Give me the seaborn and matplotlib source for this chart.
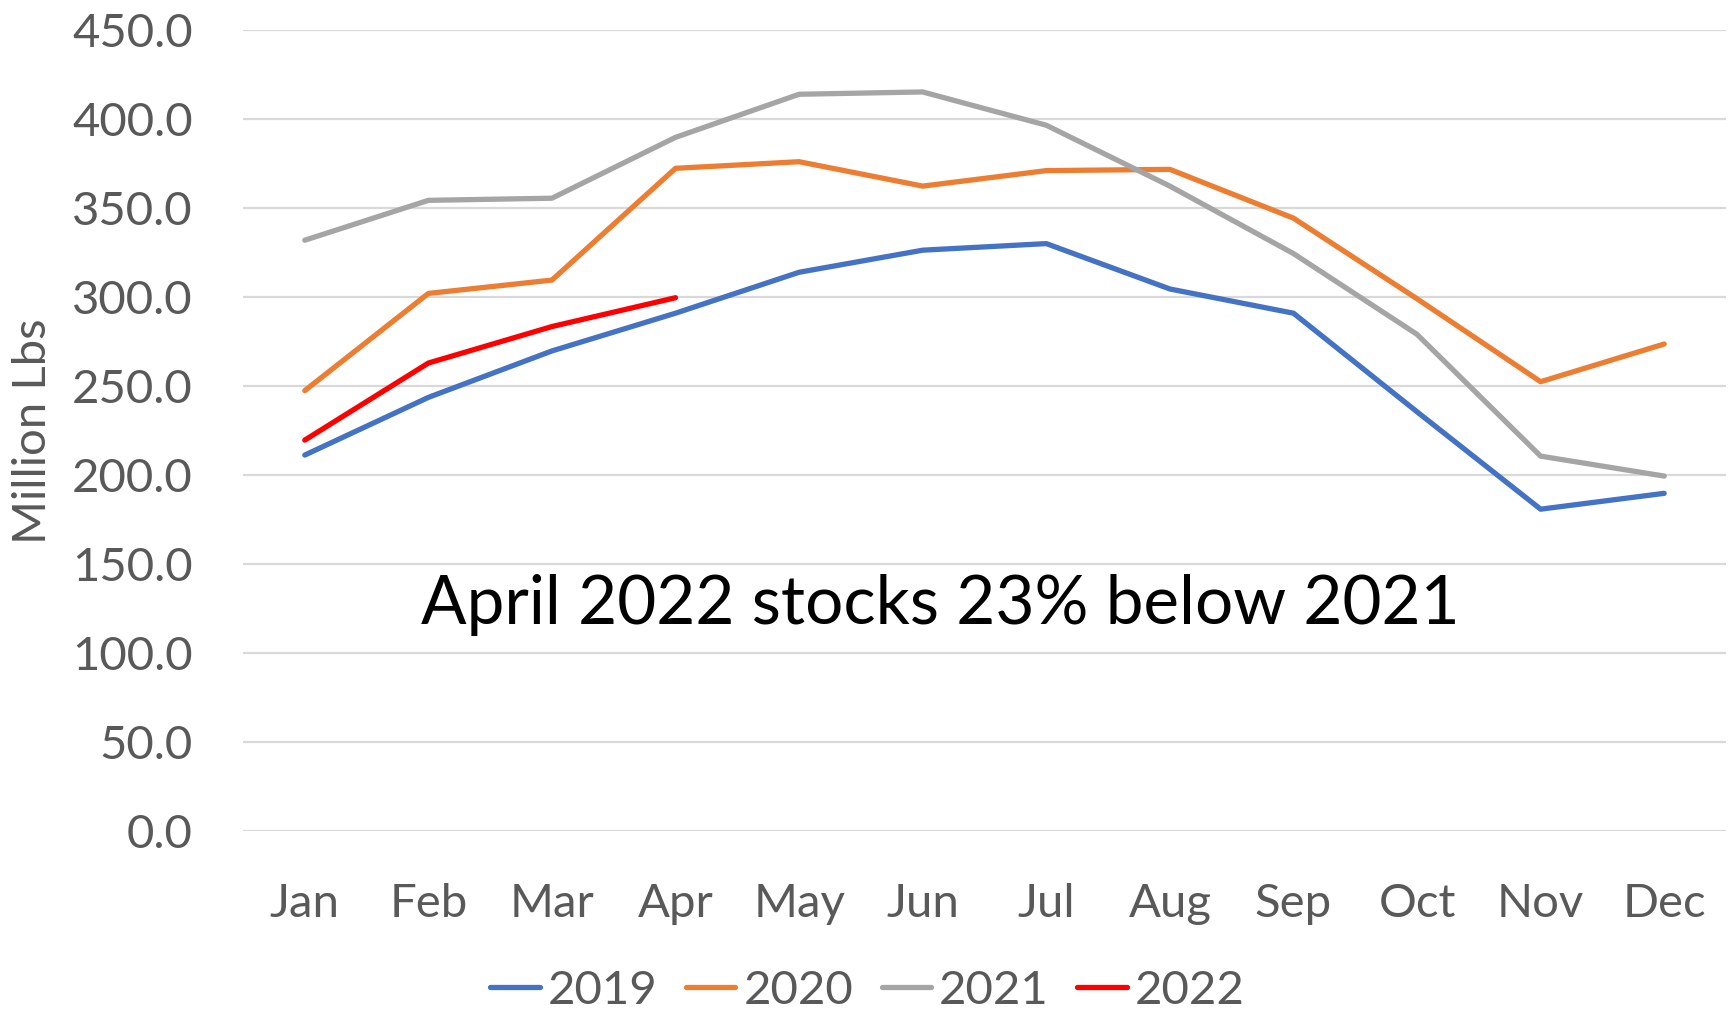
import matplotlib
matplotlib.use("Agg")
import matplotlib.pyplot as plt
import seaborn as sns
import pandas as pd
from matplotlib.lines import Line2D

months = ["Jan", "Feb", "Mar", "Apr", "May", "Jun", "Jul", "Aug", "Sep", "Oct", "Nov", "Dec"]
v2019 = [211.2, 243.6, 269.7, 290.9, 313.9, 326.3, 330.0, 304.5, 290.9, 235.5, 180.8, 189.7]
v2020 = [247.4, 302.0, 309.5, 372.3, 376.0, 362.3, 371.0, 371.7, 344.3, 299.0, 252.4, 273.6]
v2021 = [331.9, 354.3, 355.5, 389.7, 413.9, 415.2, 396.5, 362.3, 324.4, 279.0, 210.6, 199.4]
v2022 = [219.6, 262.9, 283.4, 299.6]
years = ["2019", "2020", "2021", "2022"]
colors = ["#4472C4", "#ED7D31", "#A5A5A5", "#FF0000"]
yticks = [0, 50, 100, 150, 200, 250, 300, 350, 400, 450]
annotation = "April 2022 stocks 23% below 2021"
ylabel = "Million Lbs"

rows = []
for yr, vals in zip(years, [v2019, v2020, v2021, v2022]):
    for m, v in zip(months, vals):
        rows.append({"Month": m, "Value": v, "Year": yr})
df = pd.DataFrame(rows)

sns.set_theme(style="white")
plt.rcParams['font.family'] = ['Lato', 'DejaVu Sans']
grey = "#595959"

fig = plt.figure(figsize=(17.35, 10.09), dpi=100)
ax = fig.add_axes([243/1735, 1-831/1009, (1726-243)/1735, (831-30)/1009])

sns.lineplot(data=df, x="Month", y="Value", hue="Year", palette=dict(zip(years, colors)),
             linewidth=3.8, ax=ax, legend=False, sort=False,
             solid_capstyle="round", solid_joinstyle="round")

ax.set_xlim(-0.5, 11.5)
ax.set_ylim(0, 450)
ax.set_yticks(yticks)
ax.set_yticklabels([f"{t:.1f}" for t in yticks])
ax.grid(axis="y", color="#D9D9D9", linewidth=1.6)
ax.grid(axis="x", visible=False)
ax.set_axisbelow(True)
for s in ax.spines.values():
    s.set_visible(False)
ax.tick_params(axis="y", length=0, pad=36, labelsize=34, labelcolor=grey)
ax.tick_params(axis="x", length=0, pad=37.5, labelsize=34, labelcolor=grey)
ax.set_xlabel("")
ax.set_ylabel("")

fig.text(33/1735, 1-431/1009, ylabel, rotation=90, ha="center", va="center",
         fontsize=34, color=grey)

ax.text(0.470, 0.2825, annotation, transform=ax.transAxes, ha="center", va="center",
        fontsize=48.5, color="black")

handles = [Line2D([0], [0], color=c, linewidth=3.8, solid_capstyle="round") for c in colors]
fig.legend(handles, years, loc="center", bbox_to_anchor=(0.5, 1-991/1009), ncol=4,
           frameon=False, fontsize=34, labelcolor=grey, handlelength=1.05,
           handletextpad=0.17, columnspacing=0.6)

fig.savefig("out.png", dpi=100)
